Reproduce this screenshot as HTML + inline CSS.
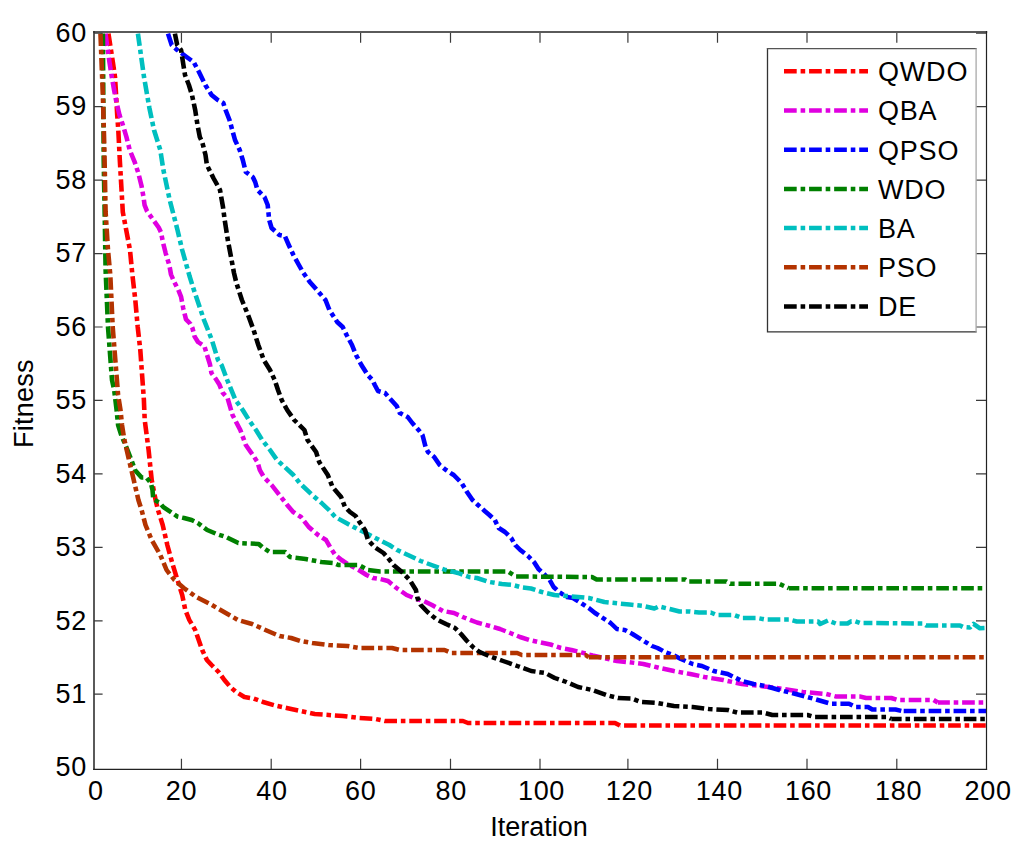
<!DOCTYPE html><html><head><meta charset="utf-8"><title>Fitness vs Iteration</title><style>html,body{margin:0;padding:0;background:#fff;overflow:hidden}svg{display:block}</style></head><body>
<svg width="1024" height="852" viewBox="0 0 1024 852" style="font-family:'Liberation Sans',sans-serif;font-size:27px;font-kerning:none">
<rect width="1024" height="852" fill="#fff"/>
<defs><clipPath id="ax"><rect x="94" y="32" width="892.5" height="737.5"/></clipPath></defs>
<g clip-path="url(#ax)"><g transform="scale(1.0217 1)" fill="none" stroke-width="4.5" stroke-dasharray="12.4 3.75 4.5 3.75" stroke-linejoin="round" stroke-linecap="butt">
<polyline stroke="#ff0000" points="106.14,33.6 110.60,63.0 112.56,77.0 113.93,100.0 114.71,115.0 115.79,130.0 117.26,160.0 120.19,212.0 127.24,250.0 129.39,273.0 132.43,300.0 134.78,327.0 137.32,350.0 140.84,400.0 141.63,420.0 145.44,450.0 148.48,480.0 152.30,500.0 154.64,510.0 159.24,525.0 163.75,545.0 169.13,565.0 173.73,580.0 178.33,595.0 181.36,610.0 185.28,620.0 191.05,630.0 194.48,640.0 197.91,650.0 202.51,660.0 207.11,665.0 213.96,672.0 219.63,680.0 225.41,687.0 231.18,692.0 239.21,697.0 248.36,698.5 257.51,702.0 271.31,706.0 280.51,708.0 294.22,711.0 308.02,714.0 335.52,716.0 351.57,718.0 367.62,719.0 376.82,721.0 453.17,721.0 458.06,723.0 601.94,723.0 606.83,725.5"/>
<polyline stroke="#ff0000" stroke-dashoffset="20.42" points="606.83,725.5 965.55,725.5"/>
<polyline stroke="#e000e0" points="103.19,33.6 107.27,63.0 109.43,77.0 111.68,90.0 113.93,102.0 116.96,115.0 120.49,125.6 123.72,136.9 126.95,150.0 131.55,161.3 135.26,172.6 138.49,185.7 140.45,197.0 141.53,205.2 143.88,211.1 149.55,219.3 155.33,227.5 157.58,232.2 159.34,241.6 162.18,253.3 165.70,265.0 167.37,274.5 170.30,281.5 174.51,289.9 177.25,296.9 179.31,308.2 180.68,313.8 182.05,319.4 186.26,323.7 188.31,327.9 190.37,336.3 193.79,342.0 200.06,346.2 202.11,353.2 205.54,364.5 206.91,373.0 211.02,378.6 214.54,384.2 217.97,392.7 222.77,398.3 227.56,415.0 235.20,430.0 240.58,445.0 247.43,455.0 252.03,462.0 254.28,470.0 258.15,477.0 265.83,485.0 273.47,495.0 281.10,505.0 286.97,512.0 294.61,517.0 302.19,527.0 311.34,535.0 319.08,540.0 323.58,548.0 328.18,555.0 334.34,560.0 341.98,565.0 351.13,570.0 358.81,575.0 364.88,578.0 371.93,579.0 379.76,581.0 388.08,588.0 397.96,595.0 407.16,599.0 414.75,601.0 422.82,605.0 433.59,611.0 444.36,613.0 454.15,617.5 466.87,622.5 479.59,626.0 489.38,629.0 499.36,633.0 508.96,637.0 518.16,640.0 527.06,642.0 538.81,644.5 549.08,648.0 559.36,650.0 567.68,652.0 579.92,655.5 593.13,658.5 603.80,661.0 613.68,662.0 629.73,664.0 645.79,668.0 659.59,671.0 675.64,674.0 689.44,677.0 707.74,680.0 726.14,684.0 744.45,686.0 767.35,689.0 785.75,692.0 808.65,694.0 817.85,696.4 841.34,696.4 847.61,698.0 872.37,698.0 878.63,700.0 913.77,700.0 917.88,702.5"/>
<polyline stroke="#e000e0" stroke-dashoffset="0.59" points="917.88,702.5 965.55,702.5"/>
<polyline stroke="#0000ff" points="164.43,33.6 168.05,45.0 173.44,50.0 182.64,57.0 189.49,62.0 194.77,72.0 200.94,85.0 207.11,95.0 213.17,100.0 218.56,103.0 220.81,110.0 224.63,120.0 230.01,140.0 234.61,150.0 237.64,160.0 240.58,172.0 247.43,177.0 249.78,182.0 252.03,190.0 258.88,197.0 262.01,205.0 263.48,220.0 265.83,228.0 273.47,235.0 278.75,236.0 282.62,245.0 287.17,255.0 292.55,265.0 296.37,272.0 303.22,282.0 310.17,290.0 318.59,300.0 322.40,310.0 330.04,322.0 335.42,327.0 339.24,335.0 344.52,345.0 348.44,355.0 353.72,365.0 359.89,375.0 364.59,380.0 366.84,385.0 369.97,391.0 376.82,393.0 382.94,400.0 388.27,406.0 391.31,413.0 399.04,417.0 403.54,423.0 409.71,430.0 413.53,435.0 416.56,447.0 418.91,452.0 424.98,457.0 430.36,465.0 436.53,470.0 444.11,475.0 451.80,483.0 457.08,492.0 462.46,500.0 467.85,505.0 474.41,511.0 479.01,515.0 484.29,520.0 488.16,528.0 494.27,532.0 500.39,538.0 504.26,545.0 509.25,550.0 516.79,556.0 522.66,562.0 527.06,569.0 533.42,575.0 538.02,580.0 541.84,587.0 547.13,592.0 554.86,597.0 560.83,598.0 568.66,603.0 576.25,608.0 582.36,613.0 588.48,617.0 597.63,623.0 603.80,629.0 611.43,630.0 619.07,634.0 629.34,640.5 638.15,646.0 643.54,648.0 650.88,652.0 658.71,655.0 666.44,659.0 677.99,664.0 687.09,666.0 698.59,671.0 712.34,674.0 726.14,681.0 737.59,684.0 749.05,686.0 762.85,690.0 778.90,694.0 797.20,699.0 813.25,703.8 830.97,703.8 837.23,707.0 849.56,707.0 853.77,709.5 876.48,709.5 882.74,711.0"/>
<polyline stroke="#0000ff" stroke-dashoffset="22.64" points="882.74,711.0 965.55,711.0"/>
<polyline stroke="#008000" points="100.72,33.6 101.50,160.0 102.57,220.0 103.36,270.0 105.71,327.0 109.62,380.0 111.77,390.0 114.12,410.0 115.59,425.0 118.67,435.0 124.79,450.0 128.61,460.0 132.43,470.5 138.59,477.5 143.14,477.5 147.70,483.0 149.26,490.0 150.04,499.4 156.11,502.5 159.93,507.2 169.13,513.4 173.73,516.6 180.09,518.0 187.53,520.0 193.60,523.0 202.80,530.0 212.00,534.0 221.20,537.0 233.34,543.0 253.25,544.0 257.81,548.0 263.97,552.0 279.24,552.0 283.84,557.0 299.11,559.0 314.43,562.0 326.66,563.0 331.21,565.0 351.13,565.0 360.18,570.0 371.93,571.5 497.21,571.5 505.04,576.5 579.43,577.0 583.93,579.5 670.84,579.5 673.68,581.5 710.97,581.5 714.79,583.8 762.55,583.8 772.14,588.2"/>
<polyline stroke="#008000" stroke-dashoffset="2.20" points="772.14,588.2 965.55,588.2"/>
<polyline stroke="#00bfbf" points="134.99,33.6 140.94,77.0 146.23,108.0 150.73,130.0 156.90,150.0 159.93,170.0 166.10,200.0 173.73,230.0 178.33,250.0 185.48,276.0 189.78,290.0 199.67,320.0 207.40,340.0 213.37,360.0 216.89,365.0 222.37,380.0 230.50,400.0 237.55,410.0 243.61,420.0 250.56,430.0 256.63,440.0 264.27,450.0 271.12,460.0 276.50,465.0 287.17,475.0 293.33,483.0 305.57,495.0 314.77,503.0 322.01,510.0 328.18,517.0 338.90,523.0 348.05,528.0 361.85,535.0 371.44,540.0 381.13,545.0 388.76,550.0 399.33,555.0 411.67,561.0 422.43,565.0 436.14,570.0 448.27,573.0 459.04,577.0 466.77,578.0 479.01,582.0 491.24,584.0 501.91,585.0 510.91,587.5 519.72,588.5 530.39,592.0 542.63,595.0 554.86,596.0 576.25,598.0 591.56,602.0 616.03,604.5 629.73,606.0 640.50,608.5 645.00,606.5 655.57,609.0 665.07,611.5 674.66,611.5 684.15,612.5 695.70,612.5 701.38,615.0 718.61,615.0 726.24,618.0 741.51,618.0 749.24,619.5 772.14,619.5 779.78,621.5 800.82,621.5 802.78,624.0 810.41,620.5 818.05,623.5 829.50,623.5 832.93,621.3 837.13,621.3 841.73,623.0 853.77,623.0"/>
<polyline stroke="#00bfbf" stroke-dashoffset="20.51" points="853.77,623.0 903.40,623.5 906.33,625.5 939.61,625.5 942.55,627.0 949.40,627.5 952.82,623.8 959.19,628.3 965.55,628.0"/>
<polyline stroke="#b33300" points="98.33,33.6 100.81,100.0 102.18,150.0 103.36,212.0 105.71,250.0 107.96,275.0 110.31,327.0 115.59,395.0 117.94,410.0 119.41,425.0 121.76,440.0 126.26,460.0 130.91,480.0 135.46,500.0 138.59,510.0 142.41,525.0 148.48,540.0 156.90,555.0 163.06,570.0 170.70,580.0 179.85,588.0 192.08,597.0 207.40,605.0 226.09,616.0 232.95,620.0 246.65,624.0 262.11,631.0 273.56,636.0 285.02,638.0 294.22,641.0 305.67,643.0 321.72,645.0 340.12,646.0 351.57,648.0 383.67,648.0 391.50,650.0 435.06,650.0 442.01,653.0 506.22,653.0 510.82,655.0 573.16,655.0 576.25,657.3"/>
<polyline stroke="#b33300" stroke-dashoffset="0.02" points="576.25,657.3 965.55,657.3"/>
<polyline stroke="#000000" points="171.20,33.6 173.44,45.0 177.25,50.0 179.50,65.0 181.07,75.0 184.89,85.0 187.92,95.0 191.05,110.0 193.31,125.0 195.56,137.0 197.91,142.0 201.14,155.0 202.51,165.0 208.87,178.0 212.68,185.0 215.33,190.0 218.26,207.0 219.93,220.0 222.96,240.0 226.29,258.0 229.03,273.0 231.38,283.0 236.76,300.0 242.83,315.0 248.21,330.0 252.81,345.0 258.15,360.0 264.27,370.0 268.87,380.0 272.10,390.0 275.72,400.0 281.10,410.0 287.95,420.0 297.93,430.0 300.97,440.0 309.39,452.0 312.42,462.0 320.84,475.0 325.44,487.0 333.86,497.0 337.67,507.0 342.57,512.0 348.05,516.0 351.86,522.0 357.25,530.0 360.18,540.0 366.45,547.0 375.35,553.0 379.76,558.0 385.14,565.0 393.36,572.0 401.00,580.0 407.07,590.0 408.63,598.0 411.86,605.0 418.42,612.0 426.74,619.0 436.53,624.0 445.34,628.0 451.21,634.0 457.08,641.0 463.93,648.0 469.51,652.0 478.61,656.0 492.41,661.0 506.22,666.0 519.92,671.0 533.72,673.0 542.92,678.0 554.37,682.0 565.82,687.0 579.62,690.0 593.32,695.0 604.87,698.0 618.28,698.5 627.39,702.0 643.54,703.0 659.59,706.0 677.99,707.0 693.94,709.0 712.34,710.0 721.54,712.5 746.79,712.5 755.90,715.0 790.35,715.0 797.20,717.0 868.16,717.0 872.37,719.0"/>
<polyline stroke="#000000" stroke-dashoffset="2.28" points="872.37,719.0 965.55,719.0"/>
</g></g>
<g fill="none">
<path stroke="#5a5a5a" stroke-width="2" d="M93.2 31.9H987.2"/>
<path stroke="#303030" stroke-width="1.6" d="M94 31V770"/>
<path stroke="#222" stroke-width="1.2" d="M986.5 31V770M93.2 769.4H987.2"/>
<path stroke="#3a3a3a" stroke-width="1.2" d="M181.45 769V758.8M181.45 33V42.8M271.2 769V758.8M271.2 33V42.8M360.6 769V758.8M360.6 33V42.8M450.5 769V758.8M450.5 33V42.8M540 769V758.8M540 33V42.8M627.9 769V758.8M627.9 33V42.8M717.5 769V758.8M717.5 33V42.8M807 769V758.8M807 33V42.8M896.8 769V758.8M896.8 33V42.8M94 33.26H102.6M986 33.26H976M94 106.70H102.6M986 106.70H976M94 180.14H102.6M986 180.14H976M94 253.58H102.6M986 253.58H976M94 327.02H102.6M986 327.02H976M94 400.46H102.6M986 400.46H976M94 473.90H102.6M986 473.90H976M94 547.34H102.6M986 547.34H976M94 620.78H102.6M986 620.78H976M94 694.22H102.6M986 694.22H976"/>
</g>
<g fill="#000">
<text x="86.9" y="41.7" text-anchor="end" letter-spacing="0.7">60</text>
<text x="86.9" y="115.2" text-anchor="end" letter-spacing="0.7">59</text>
<text x="86.9" y="188.6" text-anchor="end" letter-spacing="0.7">58</text>
<text x="86.9" y="262.1" text-anchor="end" letter-spacing="0.7">57</text>
<text x="86.9" y="335.6" text-anchor="end" letter-spacing="0.7">56</text>
<text x="86.9" y="409.1" text-anchor="end" letter-spacing="0.7">55</text>
<text x="86.9" y="482.5" text-anchor="end" letter-spacing="0.7">54</text>
<text x="86.9" y="556.0" text-anchor="end" letter-spacing="0.7">53</text>
<text x="86.9" y="629.5" text-anchor="end" letter-spacing="0.7">52</text>
<text x="86.9" y="702.9" text-anchor="end" letter-spacing="0.7">51</text>
<text x="86.9" y="776.4" text-anchor="end" letter-spacing="0.7">50</text>
<text x="95.9" y="799.8" text-anchor="middle" letter-spacing="0.7">0</text>
<text x="181.4" y="799.8" text-anchor="middle" letter-spacing="0.7">20</text>
<text x="271.9" y="799.8" text-anchor="middle" letter-spacing="0.7">40</text>
<text x="360.7" y="799.8" text-anchor="middle" letter-spacing="0.7">60</text>
<text x="451.2" y="799.8" text-anchor="middle" letter-spacing="0.7">80</text>
<text x="541.5" y="799.8" text-anchor="middle" letter-spacing="0.7">100</text>
<text x="629.4" y="799.8" text-anchor="middle" letter-spacing="0.7">120</text>
<text x="719.4" y="799.8" text-anchor="middle" letter-spacing="0.7">140</text>
<text x="808.5" y="799.8" text-anchor="middle" letter-spacing="0.7">160</text>
<text x="898.6" y="799.8" text-anchor="middle" letter-spacing="0.7">180</text>
<text x="988.1" y="799.8" text-anchor="middle" letter-spacing="0.7">200</text>
<text x="539" y="835.6" text-anchor="middle">Iteration</text>
<text transform="translate(32.8 403.7) rotate(-90)" text-anchor="middle" letter-spacing="0.25">Fitness</text>
</g>
<rect x="767.5" y="48.6" width="208.6" height="283.2" fill="#fff"/>
<path fill="none" stroke="#333" stroke-width="1.3" d="M767.5 48.0V332.40000000000003M766.9 331.8H976.7"/>
<path fill="none" stroke="#555" stroke-width="1.2" d="M766.9 48.6H976.7"/>
<path fill="none" stroke="#a8a8a8" stroke-width="1.3" d="M976.1 48.6V331.8"/>
<line x1="784" y1="71.3" x2="868" y2="71.3" stroke="#ff0000" stroke-width="4.5" stroke-dasharray="12.7 3.9 4.6 3.87"/>
<text x="878" y="81.1" letter-spacing="0.8">QWDO</text>
<line x1="784" y1="110.5" x2="868" y2="110.5" stroke="#e000e0" stroke-width="4.5" stroke-dasharray="12.7 3.9 4.6 3.87"/>
<text x="878" y="120.3" letter-spacing="0.8">QBA</text>
<line x1="784" y1="149.7" x2="868" y2="149.7" stroke="#0000ff" stroke-width="4.5" stroke-dasharray="12.7 3.9 4.6 3.87"/>
<text x="878" y="159.5" letter-spacing="0.8">QPSO</text>
<line x1="784" y1="188.9" x2="868" y2="188.9" stroke="#008000" stroke-width="4.5" stroke-dasharray="12.7 3.9 4.6 3.87"/>
<text x="878" y="198.7" letter-spacing="0.8">WDO</text>
<line x1="784" y1="228.1" x2="868" y2="228.1" stroke="#00bfbf" stroke-width="4.5" stroke-dasharray="12.7 3.9 4.6 3.87"/>
<text x="878" y="237.9" letter-spacing="0.8">BA</text>
<line x1="784" y1="267.3" x2="868" y2="267.3" stroke="#b33300" stroke-width="4.5" stroke-dasharray="12.7 3.9 4.6 3.87"/>
<text x="878" y="277.1" letter-spacing="0.8">PSO</text>
<line x1="784" y1="306.5" x2="868" y2="306.5" stroke="#000000" stroke-width="4.5" stroke-dasharray="12.7 3.9 4.6 3.87"/>
<text x="878" y="316.3" letter-spacing="0.8">DE</text>
</svg></body></html>
